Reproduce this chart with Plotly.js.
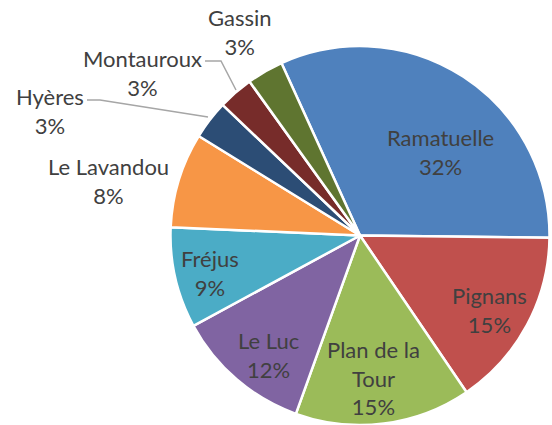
<!DOCTYPE html>
<html>
<head>
<meta charset="utf-8">
<script src="https://cdn.plot.ly/plotly-3.0.1.min.js"></script>
<style>html,body{margin:0;padding:0;background:#fff;overflow:hidden}</style>
</head>
<body>
<div id="chart" style="width:552px;height:425px"></div>
<script>
const labels = ["Ramatuelle", "Pignans", "Plan de la Tour", "Le Luc", "Fréjus", "Le Lavandou", "Hyères", "Montauroux", "Gassin"];
const values = [32.0, 15.3, 15.0, 11.6, 8.6, 8.1, 3.3, 3.0, 3.1];
const colors = ["#4F81BD", "#C0504D", "#9BBB59", "#8064A2", "#4BACC6", "#F79646", "#2C4D75", "#772C2A", "#5F7530"];
const labelLines = {"Plan de la Tour": "Plan de la<br>Tour"};

// label anchor positions (pixels in the 552x425 frame)
const labelPos = [[440, 152], [490, 310], [373, 378], [268, 355], [210, 273], [108, 181], [50, 111], [142, 73], [240, 32]];
const W = 552, H = 425;

const total = values.reduce((a, b) => a + b, 0);
const annotations = labels.map((lab, i) => ({
  text: (labelLines[lab] || lab) + "<br>" + Math.round(values[i] / total * 100) + "%",
  x: labelPos[i][0] / W, y: 1 - labelPos[i][1] / H,
  xref: "paper", yref: "paper", showarrow: false,
  xanchor: "center", yanchor: "middle", align: "center",
  font: {family: "Lato, 'Open Sans', sans-serif", size: 22, color: "#404040"}
}));

const leaderLines = [
  [[205, 61], [221, 61], [236, 90]],
  [[87, 100], [100, 100], [208, 117]]
];
const shapes = leaderLines.map(pts => ({
  type: "path", xref: "paper", yref: "paper",
  path: pts.map((p, k) => (k ? "L" : "M") + (p[0] / W) + "," + (1 - p[1] / H)).join(" "),
  line: {color: "#A6A6A6", width: 1.5}
}));

const trace = {
  type: "pie",
  labels: labels,
  values: values,
  sort: false,
  direction: "clockwise",
  rotation: -24.5,
  textinfo: "none",
  hoverinfo: "none",
  marker: {colors: colors, line: {color: "#FFFFFF", width: 2.5}},
  domain: {x: [170 / W, 550 / W], y: [0, 1 - 46 / H]}
};

Plotly.newPlot("chart", [trace], {
  width: W, height: H,
  margin: {l: 0, r: 0, t: 0, b: 0},
  showlegend: false,
  paper_bgcolor: "#FFFFFF",
  annotations: annotations,
  shapes: shapes
}, {staticPlot: true});
</script>
</body>
</html>
